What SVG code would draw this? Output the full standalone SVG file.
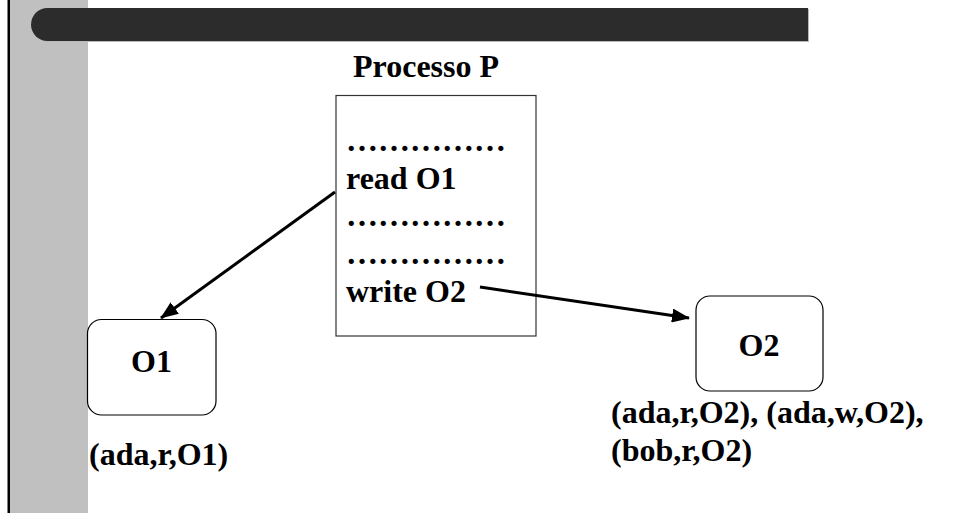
<svg xmlns="http://www.w3.org/2000/svg" width="955" height="513" viewBox="0 0 955 513">
<style>
text{font-family:"Liberation Serif","Times New Roman",serif;font-weight:bold;font-size:32px;fill:#000}
.node{fill:#fff;stroke:#000;stroke-width:1.2}
.proc{fill:#fff;stroke:#333;stroke-width:1.2}
.arrow{stroke:#000;stroke-width:3;fill:none;marker-end:url(#ah)}
</style>
<defs>
<marker id="ah" markerUnits="userSpaceOnUse" markerWidth="18" markerHeight="14" refX="17" refY="7" orient="auto">
<path d="M0,0 L18,7 L0,14 Z" fill="#000"/>
</marker>
</defs>
<rect x="0" y="0" width="955" height="513" fill="#fff"/>
<g id="background">
<rect x="10" y="0" width="78" height="513" fill="#c0c0c0"/>
<rect x="7.5" y="0" width="2.5" height="513" fill="#000"/>
<path d="M809 9 H48.5 A16.5 16.5 0 0 0 48.5 42 H809 Z" fill="#b8b8b8"/>
<path d="M808 8 H47.5 A16.5 16.5 0 0 0 47.5 41 H808 Z" fill="#2c2c2c"/>
</g>
<g id="process">
<text x="353" y="77">Processo P</text>
<rect class="proc" x="336" y="95.5" width="200" height="240.5"/>
<text x="346" y="151">……………</text>
<text x="346" y="189">read O1</text>
<text x="346" y="226">……………</text>
<text x="346" y="264">……………</text>
<text x="346" y="302">write O2</text>
</g>
<g id="O1">
<rect class="node" x="87.5" y="319.5" width="128.5" height="95.5" rx="14"/>
<text x="151.5" y="372" text-anchor="middle">O1</text>
<text x="89" y="465">(ada,r,O1)</text>
</g>
<g id="O2">
<rect class="node" x="696" y="296" width="127" height="95" rx="14"/>
<text x="759" y="356" text-anchor="middle">O2</text>
<text x="611" y="423">(ada,r,O2), (ada,w,O2),</text>
<text x="611" y="461">(bob,r,O2)</text>
</g>
<g id="connectors">
<line class="arrow" x1="335" y1="192" x2="161" y2="318"/>
<line class="arrow" x1="480" y1="287" x2="689" y2="318"/>
</g>
</svg>
